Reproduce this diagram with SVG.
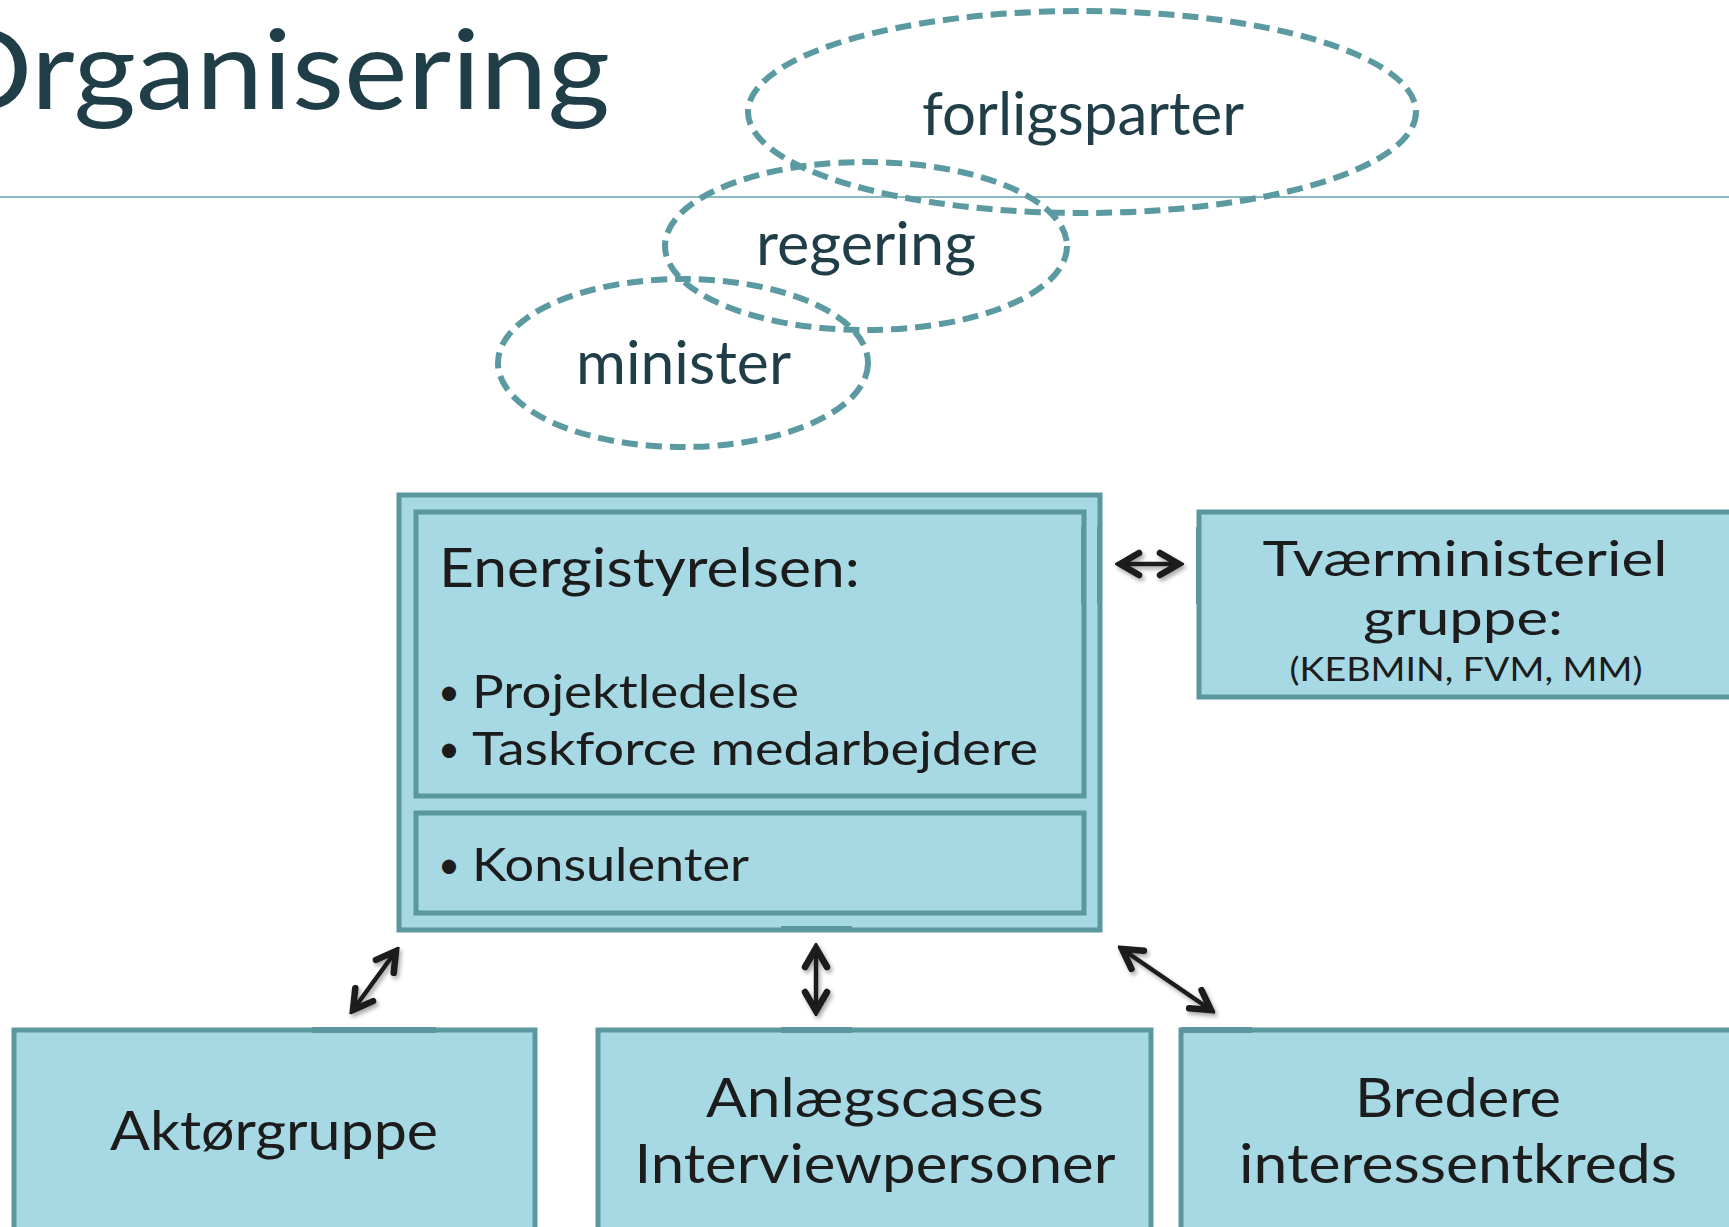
<svg xmlns="http://www.w3.org/2000/svg" width="1729" height="1227" viewBox="0 0 1729 1227">
<defs>
<style>
.box{fill:#a6d9e3;stroke:#5b979f;stroke-width:5}
.ell{fill:none;stroke:#5b9aa0;stroke-width:6;stroke-dasharray:16 8}
.t{font-family:Lato,"Open Sans","Liberation Sans",sans-serif;fill:#1c1c1c}
.e{font-family:Lato,"Open Sans","Liberation Sans",sans-serif;fill:#1f3e48}
.b{font-family:Lato,"Open Sans","Liberation Sans",sans-serif;fill:#1c1c1c;font-size:38px}
.mark{fill:#5b979f}
.arr{stroke:#1a1a1a;stroke-width:4.5;fill:none;marker-start:url(#ah);marker-end:url(#ah)}
</style>
<marker id="ah" viewBox="0 -15 28 30" markerWidth="28" markerHeight="30" refX="23" refY="0" orient="auto-start-reverse" markerUnits="userSpaceOnUse">
<path d="M4,-11 L23,0 L4,11" fill="none" stroke="#1a1a1a" stroke-width="6.5" stroke-linejoin="miter" stroke-linecap="round"/>
</marker>
<filter id="sh" x="-30%" y="-30%" width="160%" height="160%">
<feDropShadow dx="2" dy="3" stdDeviation="2" flood-color="#000" flood-opacity="0.35"/>
</filter>
</defs>
<rect width="1729" height="1227" fill="#ffffff"/>

<g id="title">
<text class="e" x="-64" y="109" font-size="110" textLength="674" lengthAdjust="spacingAndGlyphs" fill="#24434d">Organisering</text>
<line x1="0" y1="197" x2="1729" y2="197" stroke="#8ab9c1" stroke-width="2"/>
</g>

<g id="forligsparter">
<ellipse class="ell" cx="1082" cy="112" rx="334" ry="101"/>
<text class="e" x="922" y="135" font-size="60" textLength="322" lengthAdjust="spacingAndGlyphs">forligsparter</text>
</g>
<g id="regering">
<ellipse class="ell" cx="866" cy="246" rx="201" ry="84"/>
<text class="e" x="756" y="265" font-size="60" textLength="220" lengthAdjust="spacingAndGlyphs">regering</text>
</g>
<g id="minister">
<ellipse class="ell" cx="683" cy="363" rx="185" ry="84"/>
<text class="e" x="576" y="384" font-size="60" textLength="215" lengthAdjust="spacingAndGlyphs">minister</text>
</g>

<g id="energistyrelsen">
<rect class="box" x="399" y="495" width="701" height="435"/>
<rect class="box" x="416" y="512" width="668" height="284"/>
<rect class="box" x="416" y="813" width="668" height="100"/>
<rect class="mark" x="781" y="926" width="71" height="6"/>
<rect class="mark" x="1081" y="527" width="5" height="77"/>
<rect class="mark" x="1097" y="527" width="5" height="77"/>
<text class="t" x="439" y="587" font-size="54" textLength="421" lengthAdjust="spacingAndGlyphs">Energistyrelsen:</text>
<text class="b" x="438" y="705">•</text>
<text class="t" x="472" y="708" font-size="47" textLength="327" lengthAdjust="spacingAndGlyphs">Projektledelse</text>
<text class="b" x="438" y="762">•</text>
<text class="t" x="472" y="765" font-size="47" textLength="566" lengthAdjust="spacingAndGlyphs">Taskforce medarbejdere</text>
<text class="b" x="438" y="878">•</text>
<text class="t" x="472" y="881" font-size="47" textLength="277" lengthAdjust="spacingAndGlyphs">Konsulenter</text>
</g>

<g id="tvaerministeriel">
<rect class="box" x="1199" y="512" width="560" height="185"/>
<rect class="mark" x="1196" y="527" width="5" height="77"/>
<text class="t" x="1465" y="576" font-size="49" text-anchor="middle" textLength="405" lengthAdjust="spacingAndGlyphs">Tværministeriel</text>
<text class="t" x="1463" y="635" font-size="49" text-anchor="middle" textLength="200" lengthAdjust="spacingAndGlyphs">gruppe:</text>
<text class="t" x="1466" y="681" font-size="32" text-anchor="middle" textLength="353" lengthAdjust="spacingAndGlyphs">(KEBMIN, FVM, MM)</text>
</g>

<g id="aktoergruppe">
<rect class="box" x="14" y="1030" width="521" height="220"/>
<rect class="mark" x="312" y="1027" width="124" height="6"/>
<text class="t" x="110" y="1150" font-size="54" textLength="328" lengthAdjust="spacingAndGlyphs">Aktørgruppe</text>
</g>

<g id="anlaegscases">
<rect class="box" x="598" y="1030" width="553" height="220"/>
<rect class="mark" x="781" y="1027" width="71" height="6"/>
<text class="t" x="875" y="1117" font-size="54" text-anchor="middle" textLength="338" lengthAdjust="spacingAndGlyphs">Anlægscases</text>
<text class="t" x="875" y="1183" font-size="54" text-anchor="middle" textLength="481" lengthAdjust="spacingAndGlyphs">Interviewpersoner</text>
</g>

<g id="bredere">
<rect class="box" x="1181" y="1030" width="600" height="220"/>
<rect class="mark" x="1181" y="1027" width="71" height="6"/>
<text class="t" x="1458" y="1117" font-size="54" text-anchor="middle" textLength="206" lengthAdjust="spacingAndGlyphs">Bredere</text>
<text class="t" x="1458" y="1183" font-size="54" text-anchor="middle" textLength="438" lengthAdjust="spacingAndGlyphs">interessentkreds</text>
</g>

<g id="connectors" filter="url(#sh)">
<line class="arr" x1="1120" y1="564" x2="1179" y2="564"/>
<line class="arr" x1="396" y1="951" x2="353" y2="1010"/>
<line class="arr" x1="816" y1="948" x2="816" y2="1011"/>
<line class="arr" x1="1122" y1="949" x2="1211" y2="1010"/>
</g>
</svg>
